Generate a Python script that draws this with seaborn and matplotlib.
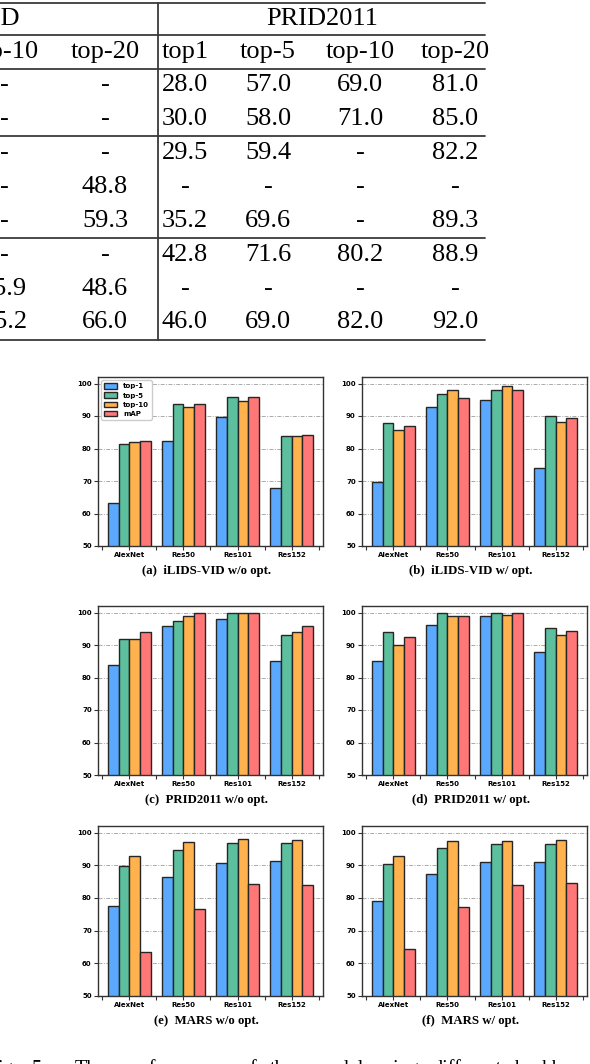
import numpy as np
import pandas as pd
import matplotlib
matplotlib.use('Agg')
import matplotlib.pyplot as plt
import seaborn as sns

# ---- table crop at the top (values as printed) ----
ilids_top10 = ['-', '-', '-', '-', '-', '-', '45.9', '55.2']
ilids_top20 = ['-', '-', '-', '48.8', '59.3', '-', '48.6', '66.0']
prid_top1 = ['28.0', '30.0', '29.5', '-', '35.2', '42.8', '-', '46.0']
prid_top5 = ['57.0', '58.0', '59.4', '-', '69.6', '71.6', '-', '69.0']
prid_top10 = ['69.0', '71.0', '-', '-', '-', '80.2', '-', '82.0']
prid_top20 = ['81.0', '85.0', '82.2', '-', '89.3', '88.9', '-', '92.0']
left_heads = ['top-10', 'top-20']
right_heads = ['top1', 'top-5', 'top-10', 'top-20']

# ---- bar charts ----
backbones = ['AlexNet', 'Res50', 'Res101', 'Res152']
metrics = ['top-1', 'top-5', 'top-10', 'mAP']
colors = ['#5aa9ff', '#5cc09f', '#ffb24d', '#ff7777']

# rows = metrics (top-1, top-5, top-10, mAP), cols = backbones
ilids_wo = [[63.3, 82.3, 89.7, 67.8],
            [81.4, 93.6, 95.9, 83.9],
            [82.0, 92.9, 94.7, 83.9],
            [82.2, 93.7, 96.0, 84.3]]
ilids_w = [[69.8, 92.9, 95.0, 74.1],
           [87.8, 96.9, 98.0, 89.9],
           [85.6, 97.9, 99.3, 88.2],
           [86.9, 95.6, 98.1, 89.4]]
prid_wo = [[84.0, 96.0, 98.0, 85.0],
           [92.0, 97.5, 100.0, 93.1],
           [92.0, 98.9, 100.0, 94.0],
           [94.0, 100.0, 100.0, 95.8]]
prid_w = [[85.0, 96.1, 98.9, 87.7],
          [94.0, 100.0, 100.0, 95.2],
          [90.0, 98.9, 99.2, 93.0],
          [92.5, 98.9, 100.0, 94.4]]
mars_wo = [[77.5, 86.4, 90.6, 91.2],
           [89.7, 94.8, 96.7, 96.8],
           [92.8, 97.0, 97.9, 97.6],
           [63.6, 76.7, 84.4, 83.9]]
mars_w = [[79.2, 87.2, 90.9, 91.1],
          [90.3, 95.2, 96.5, 96.5],
          [92.9, 97.5, 97.4, 97.6],
          [64.5, 77.2, 84.0, 84.6]]

captions = ['(a)  iLIDS-VID w/o opt.', '(b)  iLIDS-VID w/ opt.',
            '(c)  PRID2011 w/o opt.', '(d)  PRID2011 w/ opt.',
            '(e)  MARS w/o opt.', '(f)  MARS w/ opt.']
charts = [ilids_wo, ilids_w, prid_wo, prid_w, mars_wo, mars_w]

sns.set_style('white')
plt.rcParams['font.family'] = ['DejaVu Sans']
plt.rcParams['text.color'] = 'black'

W, H = 590, 1064
fig = plt.figure(figsize=(W / 100, H / 100), dpi=100)

# overlay in pixel coordinates for the table and caption text
tab = fig.add_axes([0, 0, 1, 1])
tab.set_xlim(0, W)
tab.set_ylim(H, 0)
tab.axis('off')

serif = 'Liberation Serif'
tfs = 19
lc = '#3a3a3a'
for y in [3, 35, 69, 136, 238, 340]:
    tab.plot([0, 485], [y, y], color=lc, lw=1.3)
tab.plot([158, 158], [3, 340], color=lc, lw=1.3)

tab.text(-41, 19, 'iLIDS-VID', family=serif, fontsize=tfs, ha='center', va='center')
tab.text(322, 19, 'PRID2011', family=serif, fontsize=tfs, ha='center', va='center')
left_x = [4, 105]
right_x = [185, 268, 360, 455]
for x, h in zip(left_x, left_heads):
    tab.text(x, 52, h, family=serif, fontsize=tfs, ha='center', va='center')
for x, h in zip(right_x, right_heads):
    tab.text(x, 52, h, family=serif, fontsize=tfs, ha='center', va='center')
row_y = [85, 119, 153, 187, 221, 255, 289, 322]
for col, x in zip([ilids_top10, ilids_top20, prid_top1, prid_top5, prid_top10, prid_top20],
                  left_x + right_x):
    for y, v in zip(row_y, col):
        tab.text(x, y, v, family=serif, fontsize=tfs, ha='center', va='center')

# cut-off figure caption at the very bottom
words = [('ig.', -2), ('5.', 32), ('The', 75), ('performance', 124), ('of', 240),
         ('the', 270), ('model', 314), ('using', 376), ('different', 432), ('backbones', 515)]
for w, x in words:
    tab.text(x, 1074, w, family=serif, fontsize=14.5, ha='left', va='baseline')

# subplot boxes in pixels: left, top, width, height
boxes = [(98, 377, 225, 169), (362, 377, 225, 169),
         (98, 606, 225, 169), (362, 606, 225, 169),
         (98, 826, 225, 170), (362, 826, 225, 170)]

for i, (data, cap, (l, t, w, h)) in enumerate(zip(charts, captions, boxes)):
    ax = fig.add_axes([l / W, 1 - (t + h) / H, w / W, h / H])
    df = pd.DataFrame({
        'backbone': np.tile(backbones, len(metrics)),
        'metric': np.repeat(metrics, len(backbones)),
        'value': np.ravel(data),
    })
    sns.barplot(data=df, x='backbone', y='value', hue='metric', order=backbones,
                hue_order=metrics, palette=colors, saturation=1, errorbar=None,
                edgecolor='#262626', linewidth=1.0, legend=(i == 0), ax=ax)
    ax.set_ylim(50, 102)
    ax.set_xlim(-0.58, 3.58)
    ax.set_yticks([50, 60, 70, 80, 90, 100])
    ax.set_xticks([0, 1, 2, 3])
    ax.set_xticks([-0.5, 0.5, 1.5, 2.5, 3.5], minor=True)
    ax.set_xlabel('')
    ax.set_ylabel('')
    ax.tick_params(axis='both', which='both', direction='out', length=3, width=0.8,
                   color='#333333', labelsize=5, pad=1.5, bottom=True, left=True,
                   labelcolor='black')
    for lab in ax.get_xticklabels() + ax.get_yticklabels():
        lab.set_fontweight('bold')
    ax.yaxis.grid(True, linestyle=(0, (4, 1.5, 1, 1.5)), color='#aaaaaa', linewidth=0.7)
    ax.set_axisbelow(True)
    for sp in ax.spines.values():
        sp.set_visible(True)
        sp.set_color('#333333')
        sp.set_linewidth(1.0)
    if i == 0:
        leg = ax.legend(loc='upper left', prop={'size': 5, 'weight': 'bold'},
                        handlelength=1.9, handleheight=0.8, labelspacing=0.45,
                        borderpad=0.4, framealpha=1, edgecolor='#cccccc', fancybox=True)
        leg.set_title(None)
    cy = t + h + 25
    tab.text(l + w / 2 - 4, cy, cap, family=serif, fontweight='bold', fontsize=9.2,
             ha='center', va='center')

fig.savefig('out.png', dpi=100)
